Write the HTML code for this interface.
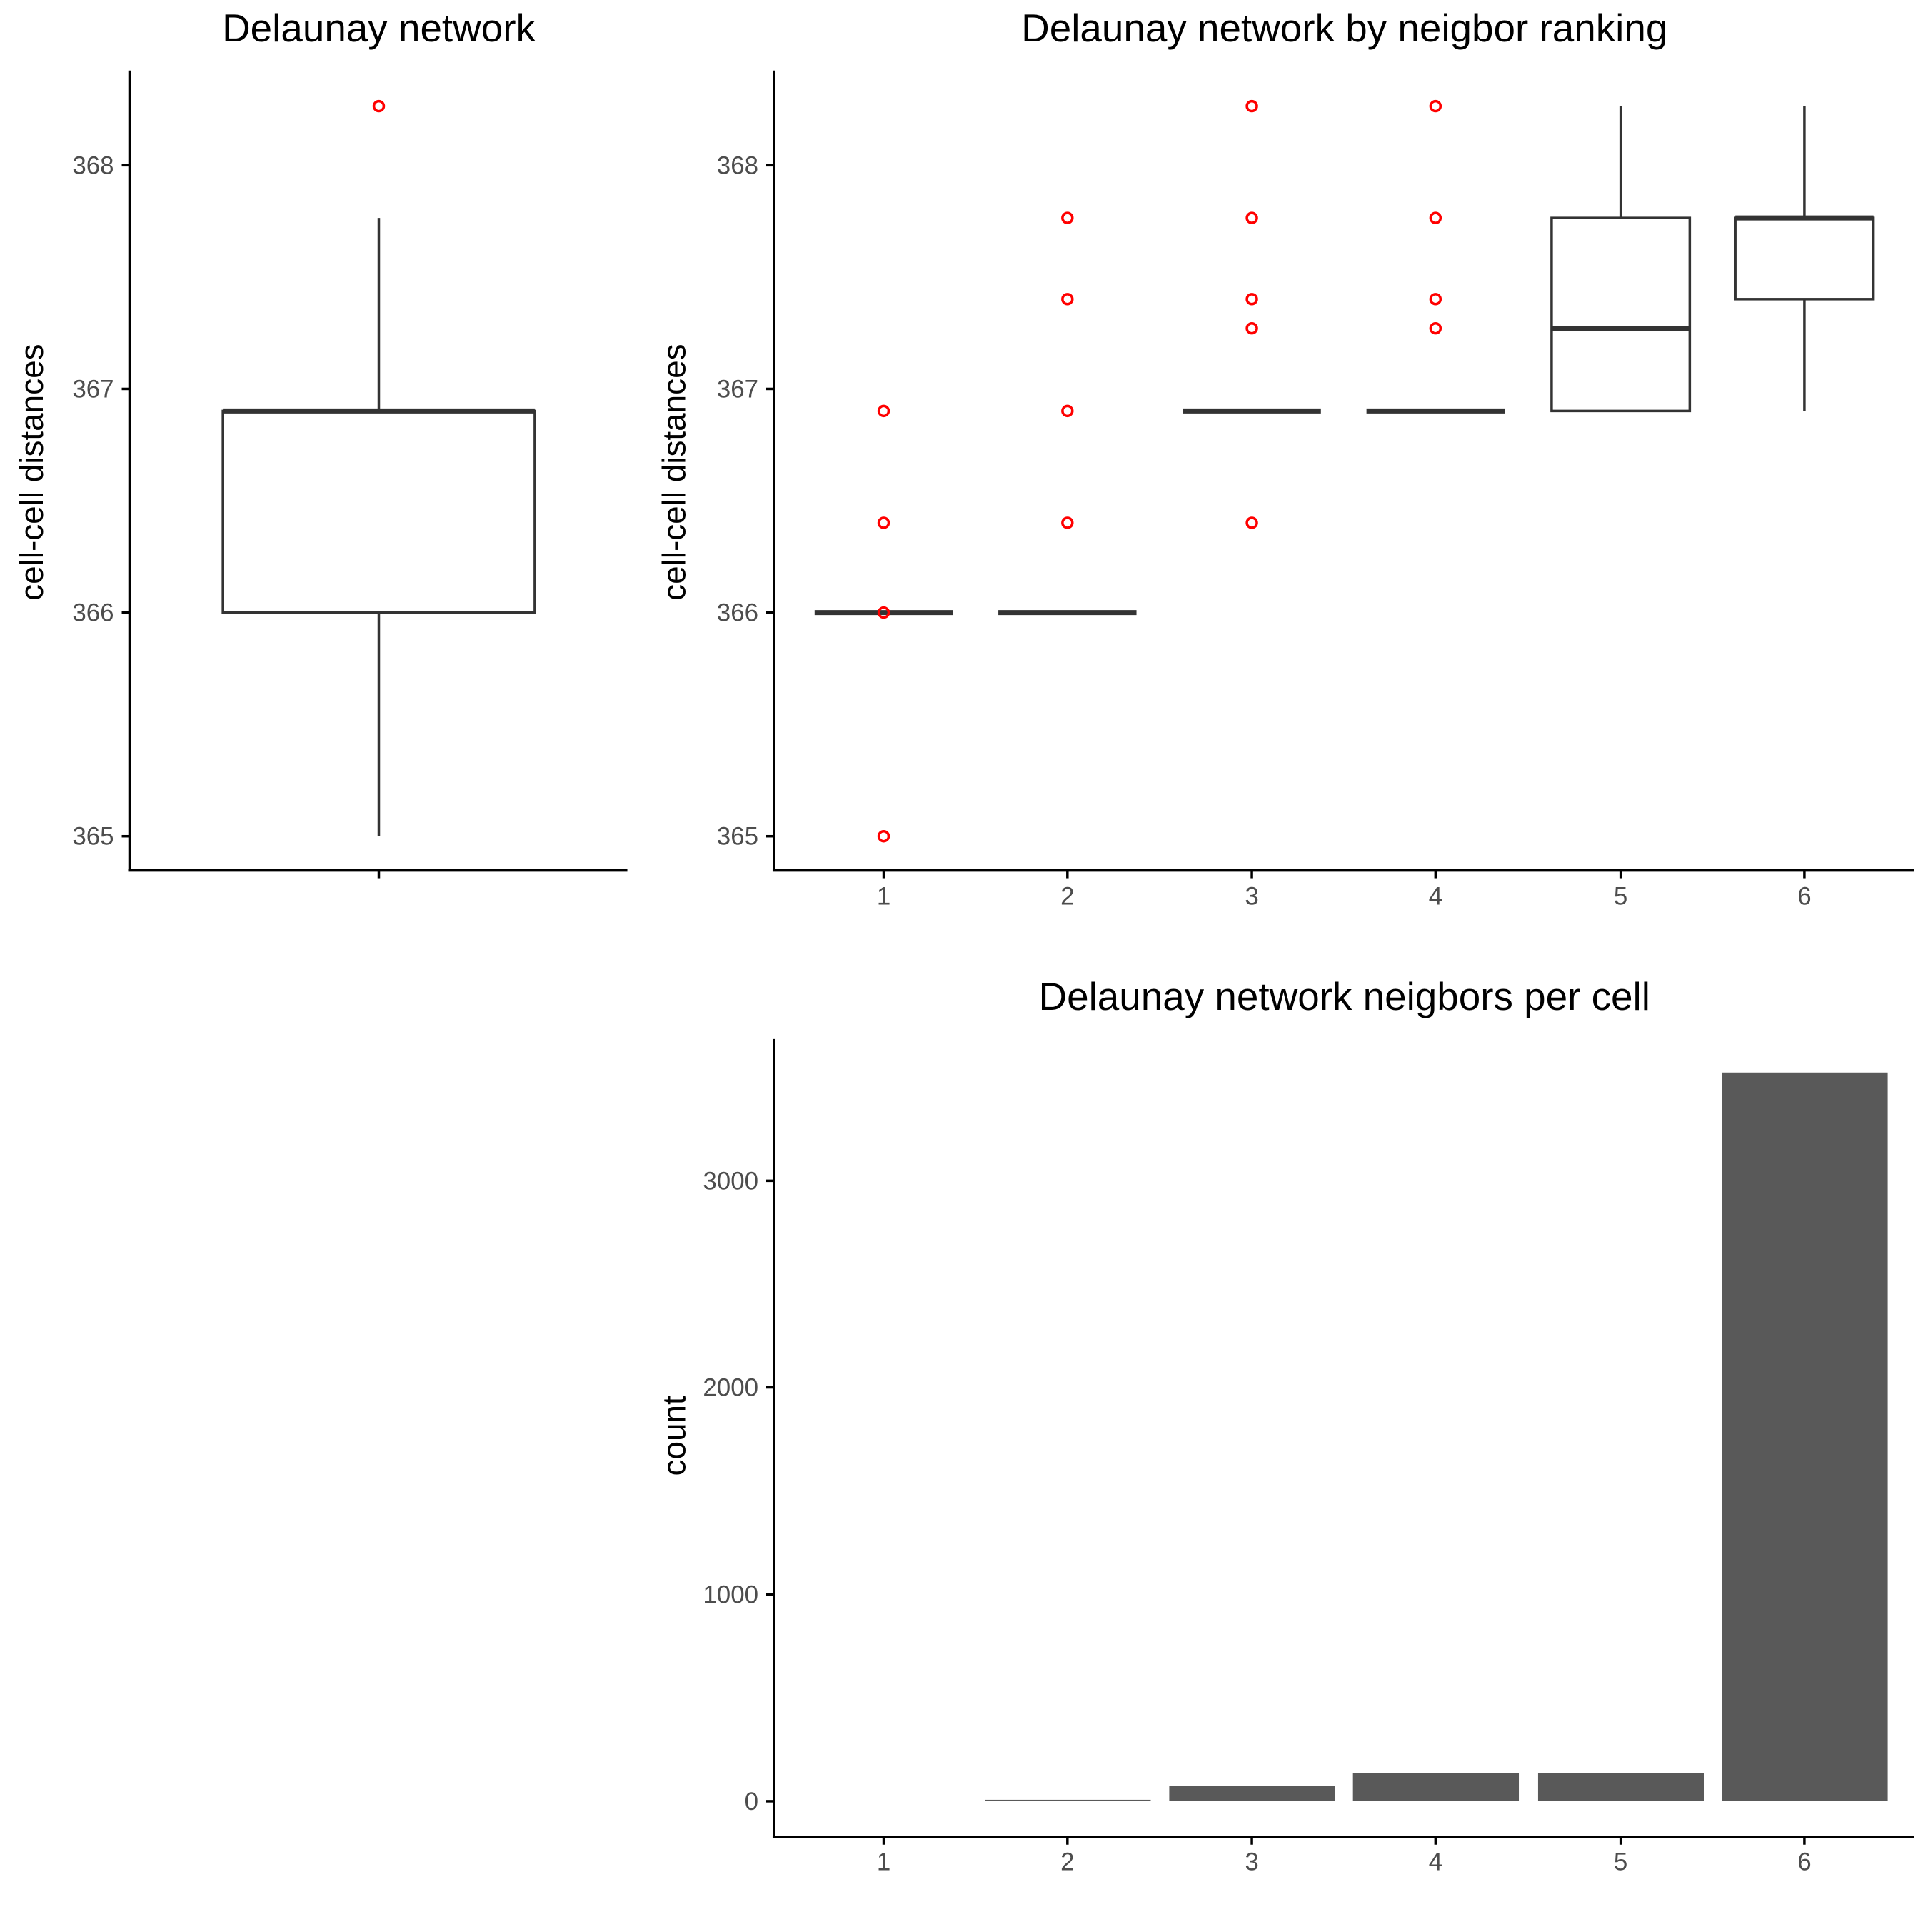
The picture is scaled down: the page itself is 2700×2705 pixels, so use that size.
<!DOCTYPE html>
<html><head><meta charset="utf-8"><style>html,body{margin:0;padding:0;background:#fff}</style></head>
<body>
<svg width="2700" height="2700" xmlns="http://www.w3.org/2000/svg" font-family="Liberation Sans, sans-serif">
<rect width="2700" height="2700" fill="#fff"/>
<g transform="scale(0.9972)">
<!-- Panel 1 -->
<text x="532" y="58" font-size="55" text-anchor="middle">Delaunay network</text>
<text transform="translate(60,663) rotate(-90)" font-size="46" text-anchor="middle">cell-cell distances</text>
<g font-size="35" fill="#4d4d4d" text-anchor="end">
<text x="160" y="244">368</text><text x="160" y="558">367</text><text x="160" y="872">366</text><text x="160" y="1186">365</text>
</g>
<g stroke="#000" stroke-width="3.5">
<line x1="182" y1="99" x2="182" y2="1222"/><line x1="180" y1="1222" x2="881" y2="1222"/>
<line x1="171" y1="232" x2="182" y2="232"/><line x1="171" y1="546" x2="182" y2="546"/><line x1="171" y1="860" x2="182" y2="860"/><line x1="171" y1="1174" x2="182" y2="1174"/>
<line x1="532" y1="1222" x2="532" y2="1233"/>
</g>
<g stroke="#333" stroke-width="3.5" fill="none">
<line x1="532" y1="306" x2="532" y2="577"/><line x1="532" y1="860" x2="532" y2="1174"/>
<rect x="313" y="577" width="438" height="283"/>
<line x1="313" y1="577" x2="751" y2="577" stroke-width="7"/>
</g>
<circle cx="532" cy="149" r="7" fill="none" stroke="red" stroke-width="3.5"/>

<!-- Panel 2 -->
<text x="1888" y="58" font-size="55" text-anchor="middle">Delaunay network by neigbor ranking</text>
<text transform="translate(962,663) rotate(-90)" font-size="46" text-anchor="middle">cell-cell distances</text>
<g font-size="35" fill="#4d4d4d" text-anchor="end">
<text x="1065" y="244">368</text><text x="1065" y="558">367</text><text x="1065" y="872">366</text><text x="1065" y="1186">365</text>
</g>
<g font-size="35" fill="#4d4d4d" text-anchor="middle">
<text x="1241" y="1270">1</text><text x="1499" y="1270">2</text><text x="1758" y="1270">3</text><text x="2016" y="1270">4</text><text x="2276" y="1270">5</text><text x="2534" y="1270">6</text>
</g>
<g stroke="#000" stroke-width="3.5">
<line x1="1087" y1="99" x2="1087" y2="1222"/><line x1="1085" y1="1222" x2="2688" y2="1222"/>
<line x1="1076" y1="232" x2="1087" y2="232"/><line x1="1076" y1="546" x2="1087" y2="546"/><line x1="1076" y1="860" x2="1087" y2="860"/><line x1="1076" y1="1174" x2="1087" y2="1174"/>
<line x1="1241" y1="1222" x2="1241" y2="1233"/><line x1="1499" y1="1222" x2="1499" y2="1233"/><line x1="1758" y1="1222" x2="1758" y2="1233"/><line x1="2016" y1="1222" x2="2016" y2="1233"/><line x1="2276" y1="1222" x2="2276" y2="1233"/><line x1="2534" y1="1222" x2="2534" y2="1233"/>
</g>
<g stroke="#333" fill="none" stroke-width="3.5">
<line x1="1144" y1="860" x2="1338" y2="860" stroke-width="7"/>
<line x1="1402" y1="860" x2="1596" y2="860" stroke-width="7"/>
<line x1="1661" y1="577" x2="1855" y2="577" stroke-width="7"/>
<line x1="1919" y1="577" x2="2113" y2="577" stroke-width="7"/>
<line x1="2276" y1="149" x2="2276" y2="306"/>
<rect x="2179" y="306" width="194" height="271"/>
<line x1="2179" y1="461" x2="2373" y2="461" stroke-width="7"/>
<line x1="2534" y1="149" x2="2534" y2="306"/><line x1="2534" y1="420" x2="2534" y2="577"/>
<rect x="2437" y="306" width="194" height="114"/>
<line x1="2437" y1="306" x2="2631" y2="306" stroke-width="7"/>
</g>
<g fill="none" stroke="red" stroke-width="3.5">
<circle cx="1241" cy="577" r="7"/><circle cx="1241" cy="734" r="7"/><circle cx="1241" cy="860" r="7"/><circle cx="1241" cy="1174" r="7"/>
<circle cx="1499" cy="306" r="7"/><circle cx="1499" cy="420" r="7"/><circle cx="1499" cy="577" r="7"/><circle cx="1499" cy="734" r="7"/>
<circle cx="1758" cy="149" r="7"/><circle cx="1758" cy="306" r="7"/><circle cx="1758" cy="420" r="7"/><circle cx="1758" cy="461" r="7"/><circle cx="1758" cy="734" r="7"/>
<circle cx="2016" cy="149" r="7"/><circle cx="2016" cy="306" r="7"/><circle cx="2016" cy="420" r="7"/><circle cx="2016" cy="461" r="7"/>
</g>

<!-- Panel 3 -->
<text x="1888" y="1418" font-size="55" text-anchor="middle">Delaunay network neigbors per cell</text>
<text transform="translate(962,2016) rotate(-90)" font-size="46" text-anchor="middle">count</text>
<g font-size="35" fill="#4d4d4d" text-anchor="end">
<text x="1065" y="1670">3000</text><text x="1065" y="1960">2000</text><text x="1065" y="2251">1000</text><text x="1065" y="2541">0</text>
</g>
<g font-size="35" fill="#4d4d4d" text-anchor="middle">
<text x="1241" y="2626">1</text><text x="1499" y="2626">2</text><text x="1758" y="2626">3</text><text x="2016" y="2626">4</text><text x="2276" y="2626">5</text><text x="2534" y="2626">6</text>
</g>
<g fill="#595959">
<rect x="1383" y="2527" width="233" height="2"/>
<rect x="1642" y="2508" width="233" height="21"/>
<rect x="1900" y="2489" width="233" height="40"/>
<rect x="2160" y="2489" width="233" height="40"/>
<rect x="2418" y="1506" width="233" height="1023"/>
</g>
<g stroke="#000" stroke-width="3.5">
<line x1="1087" y1="1459" x2="1087" y2="2579"/><line x1="1085" y1="2579" x2="2688" y2="2579"/>
<line x1="1076" y1="1658" x2="1087" y2="1658"/><line x1="1076" y1="1948" x2="1087" y2="1948"/><line x1="1076" y1="2239" x2="1087" y2="2239"/><line x1="1076" y1="2529" x2="1087" y2="2529"/>
<line x1="1241" y1="2579" x2="1241" y2="2590"/><line x1="1499" y1="2579" x2="1499" y2="2590"/><line x1="1758" y1="2579" x2="1758" y2="2590"/><line x1="2016" y1="2579" x2="2016" y2="2590"/><line x1="2276" y1="2579" x2="2276" y2="2590"/><line x1="2534" y1="2579" x2="2534" y2="2590"/>
</g>
</g>
</svg>
</body></html>
